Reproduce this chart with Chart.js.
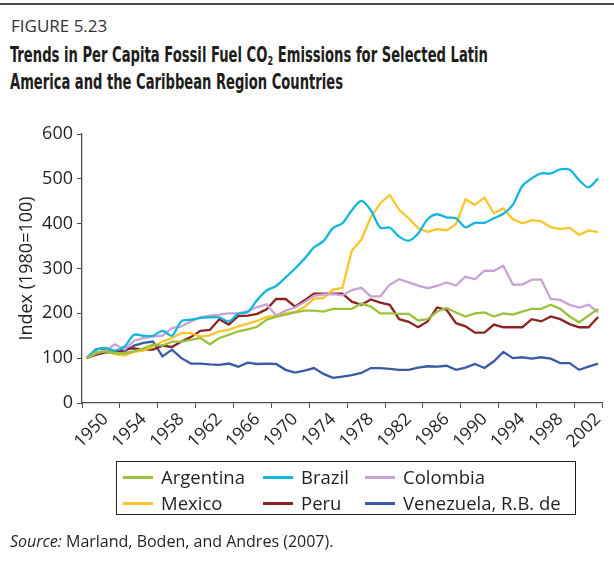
<!DOCTYPE html>
<html>
<head>
<meta charset="utf-8">
<script src="https://cdn.jsdelivr.net/npm/chart.js@4.4.1/dist/chart.umd.min.js"></script>
<style>
  body { margin: 0; background: #fff; }
  #page { position: relative; width: 614px; height: 562px; font-family: 'Open Sans', sans-serif; color: #231f20; overflow: hidden; background: #fff; }
  #rule { position: absolute; left: 0; top: 3px; width: 614px; height: 2px; background: #4d4d4d; }
  #fig { position: absolute; left: 11px; top: 14px; font-size: 17px; color: #333; }
  .title { position: absolute; left: 10px; font-family: 'Liberation Sans Narrow', 'DejaVu Sans Condensed', sans-serif; font-weight: bold; font-size: 21px; white-space: nowrap; transform-origin: 0 0; color: #1d1d1b; }
  .title sub { font-size: 13px; vertical-align: -3px; }
  #t1 { top: 43px; }
  #t2 { top: 70px; }
  canvas { position: absolute; left: 0; top: 0; }
  #legend { position: absolute; left: 116px; top: 461px; width: 458px; height: 52px; border: 1px solid #231f20; }
  .item { position: absolute; font-size: 18.5px; line-height: 20px; white-space: nowrap; }
  .item i { position: absolute; left: -38px; top: 9px; width: 30px; height: 2.5px; }
  #source { position: absolute; left: 10px; top: 530px; font-size: 16px; }
</style>
</head>
<body>
<div id="page">
  <div id="rule"></div>
  <div id="fig">FIGURE 5.23</div>
  <div class="title" id="t1" data-w="478">Trends in Per Capita Fossil Fuel CO<sub>2</sub> Emissions for Selected Latin</div>
  <div class="title" id="t2" data-w="333">America and the Caribbean Region Countries</div>
  <canvas id="chart" width="614" height="562"></canvas>
  <div id="legend"></div>
  <div id="source"><i>Source:</i> Marland, Boden, and Andres (2007).</div>
</div>
<script>
// años 1948-2002, etiquetas cada 4 años
const years = Array.from({ length: 55 }, (_, i) => 1948 + i);
const shownYears = [1950, 1954, 1958, 1962, 1966, 1970, 1974, 1978, 1982, 1986, 1990, 1994, 1998, 2002];
const yTicks = [0, 100, 200, 300, 400, 500, 600];

const argentina = [100, 113, 115, 111, 111, 115, 122, 130, 128, 137, 137, 141, 145, 131, 145, 152, 160, 164, 170, 186,
  192, 197, 202, 206, 206, 204, 210, 210, 210, 222, 215, 200, 200, 199, 199, 184, 187, 204, 212, 202,
  193, 200, 202, 193, 200, 197, 204, 210, 210, 219, 210, 193, 180, 195, 210];
const brazil = [100, 119, 122, 117, 126, 152, 150, 150, 161, 150, 182, 186, 190, 191, 191, 182, 199, 203, 230, 251,
  261, 280, 300, 322, 347, 361, 390, 401, 430, 451, 430, 391, 391, 371, 362, 378, 410, 421, 414, 412,
  392, 402, 402, 412, 422, 442, 484, 501, 512, 512, 521, 520, 497, 481, 501];
const colombia = [100, 111, 117, 131, 119, 139, 145, 148, 150, 167, 171, 182, 191, 195, 197, 200, 200, 205, 214, 220,
  195, 206, 213, 225, 239, 242, 243, 240, 252, 257, 238, 238, 264, 276, 269, 262, 256, 261, 269, 262,
  282, 276, 295, 295, 306, 264, 264, 275, 275, 232, 230, 219, 213, 219, 202];
const mexico = [100, 111, 117, 109, 106, 114, 117, 126, 137, 145, 156, 156, 148, 151, 160, 163, 171, 177, 183, 192,
  195, 200, 203, 214, 233, 234, 253, 257, 340, 364, 415, 445, 464, 431, 412, 390, 382, 388, 385, 399,
  454, 442, 458, 423, 434, 410, 401, 408, 405, 392, 388, 391, 375, 385, 381];
const peru = [100, 108, 113, 113, 120, 122, 119, 119, 128, 125, 137, 147, 161, 163, 187, 175, 194, 195, 199, 209,
  232, 232, 215, 229, 244, 244, 244, 244, 226, 219, 231, 224, 219, 187, 181, 169, 182, 213, 208, 178,
  171, 157, 157, 175, 169, 169, 169, 187, 182, 193, 187, 176, 169, 169, 192];
const venezuela = [100, 120, 122, 114, 115, 128, 134, 137, 104, 119, 100, 88, 88, 86, 85, 88, 81, 90, 87, 88,
  87, 74, 68, 72, 78, 65, 56, 59, 62, 67, 78, 78, 76, 74, 74, 79, 82, 81, 83, 74,
  79, 87, 78, 93, 114, 100, 102, 99, 102, 99, 89, 89, 74, 81, 88];

const font = 'Open Sans';
const ink = '#231f20';
const axisColor = '#4d4d4d';

function serie(label, data, color, tension) {
  return { label: label, data: data, borderColor: color, backgroundColor: color,
    borderWidth: 2.3, pointRadius: 0, tension: tension || 0, fill: false };
}

const chart = new Chart(document.getElementById('chart'), {
  type: 'line',
  data: {
    labels: years,
    datasets: [
      serie('Argentina', argentina, '#9bc13c'),
      serie('Brazil', brazil, '#14b6dd', 0.3),
      serie('Colombia', colombia, '#c8a3d3'),
      serie('Mexico', mexico, '#fdc52a'),
      serie('Peru', peru, '#8c2323'),
      serie('Venezuela, R.B. de', venezuela, '#3a5aa7')
    ]
  },
  options: {
    responsive: false,
    animation: false,
    layout: { padding: { left: 0, right: 10, top: 134, bottom: 100 } },
    plugins: { legend: { display: false }, tooltip: { enabled: false } },
    scales: {
      x: {
        offset: true,
        ticks: {
          autoSkip: false, maxRotation: 45, minRotation: 45, padding: 1,
          color: ink, font: { family: font, size: 17.5 },
          callback: (v, i) => shownYears.includes(years[i]) ? String(years[i]) : ''
        },
        grid: {
          offset: true, drawOnChartArea: false, tickLength: 5,
          tickColor: ctx => (ctx.type !== 'tick' || ctx.index % 4 === 0) ? axisColor : 'rgba(0,0,0,0)'
        },
        border: { color: axisColor, width: 1.3 },
        afterFit: s => { s.height = 59; }
      },
      y: {
        min: 0, max: 600,
        afterBuildTicks: s => { s.ticks = yTicks.map(v => ({ value: v })); },
        ticks: { color: ink, font: { family: font, size: 18 }, padding: 4 },
        grid: { drawOnChartArea: false, tickLength: 5, tickColor: axisColor },
        border: { color: axisColor, width: 1.3 },
        title: { display: true, text: 'Index (1980=100)', color: ink,
          font: { family: font, size: 18 }, padding: { top: 16, bottom: 0 } },
        afterFit: s => { s.width = 82; }
      }
    }
  }
});

// leyenda en 3 columnas, como en la figura
const cols = [44, 184, 286];
const rows = [5, 31];
const legend = document.getElementById('legend');
chart.data.datasets.forEach((ds, i) => {
  const item = document.createElement('div');
  item.className = 'item';
  item.style.left = cols[i % 3] + 'px';
  item.style.top = rows[Math.floor(i / 3)] + 'px';
  item.innerHTML = '<i style="background:' + ds.borderColor + '"></i>' + ds.label;
  legend.appendChild(item);
});

// ajustar el ancho del título condensado
document.querySelectorAll('.title').forEach(el => {
  const w = el.getBoundingClientRect().width;
  el.style.transform = 'scaleX(' + (el.dataset.w / w) + ')';
});
</script>
</body>
</html>
